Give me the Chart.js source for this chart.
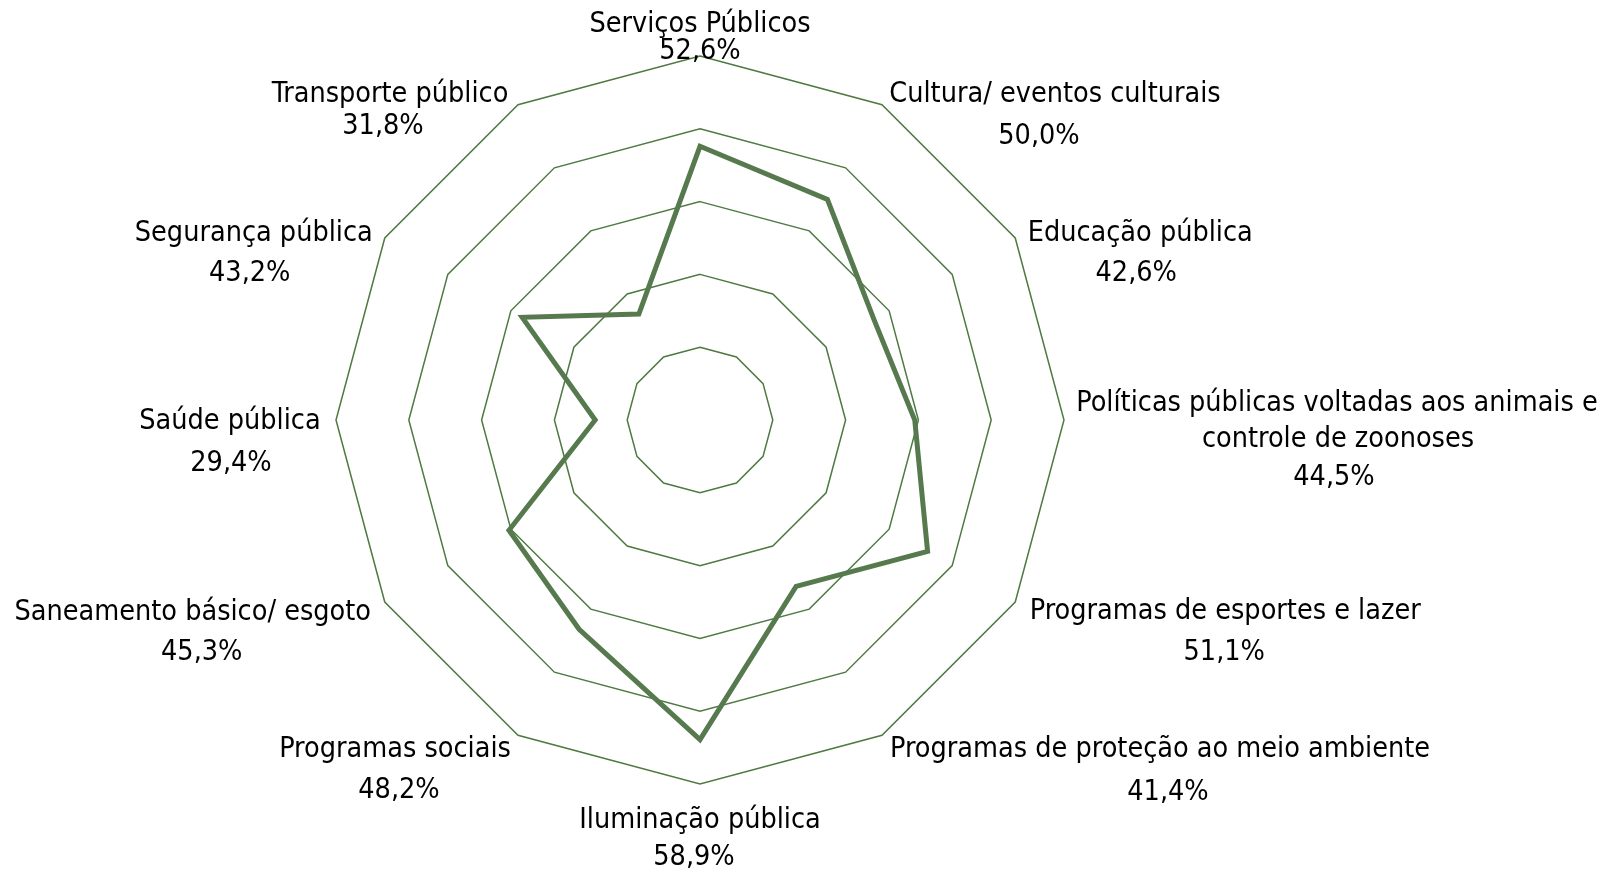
<!DOCTYPE html>
<html>
<head>
<meta charset="utf-8">
<title>Radar</title>
<script src="https://cdn.jsdelivr.net/npm/chart.js"></script>
<style>
    html, body { margin: 0; padding: 0; background: #ffffff; }
    #wrap { width: 1614px; height: 872px; }
</style>
</head>
<body>
<div id="wrap"><canvas id="chartRadar" width="1614" height="872"></canvas></div>
<script>
// categorias (sentido horario, a partir do topo)
var categories = [
    ["Serviços Públicos"],
    ["Cultura/ eventos culturais"],
    ["Educação pública"],
    ["Políticas públicas voltadas aos animais e", "controle de zoonoses"],
    ["Programas de esportes e lazer"],
    ["Programas de proteção ao meio ambiente"],
    ["Iluminação pública"],
    ["Programas sociais"],
    ["Saneamento básico/ esgoto"],
    ["Saúde pública"],
    ["Segurança pública"],
    ["Transporte público"]
];

var values = [52.6, 50.0, 42.6, 44.5, 51.1, 41.4, 58.9, 48.2, 45.3, 29.4, 43.2, 31.8];

// escala
var scaleMin = 15;
var scaleMax = 65;
var scaleStep = 10;

// deslocamento de cada linha do rotulo em relacao ao vertice externo
var labelOffsets = [
    [[0, -31], [0, -4]],
    [[173, -10], [157, 32]],
    [[125, -4], [121, 36]],
    [[273, -16], [274, 20], [270, 58]],
    [[210, 10], [209, 51]],
    [[278, 14], [286, 57]],
    [[0, 37], [-6, 74]],
    [[-123, 14], [-119, 55]],
    [[-192, 11], [-183, 51]],
    [[-106, 2], [-105, 44]],
    [[-131, -4], [-135, 36]],
    [[-128, -10], [-135, 22]]
];

function formatPct(v) {
    return v.toFixed(1).replace('.', ',') + '%';
}

var labelPlugin = {
    id: 'radarLabels',
    afterDraw: function (chart) {
        var scale = chart.scales.r;
        var ctx = chart.ctx;
        ctx.save();
        ctx.font = '28.5px "DejaVu Sans Condensed", "DejaVu Sans", sans-serif';
        ctx.fillStyle = '#000000';
        ctx.textAlign = 'center';
        ctx.textBaseline = 'middle';
        for (var i = 0; i < categories.length; i++) {
            var p = scale.getPointPosition(i, scale.drawingArea);
            var lines = categories[i].concat([formatPct(values[i])]);
            for (var j = 0; j < lines.length; j++) {
                var off = labelOffsets[i][j];
                ctx.fillText(lines[j], p.x + off[0], p.y + off[1]);
            }
        }
        ctx.restore();
    }
};

const ctx = document.getElementById('chartRadar').getContext('2d');

const myChart = new Chart(ctx, {
    type: 'radar',
    data: {
        labels: categories,
        datasets: [{
            label: 'Percentual',
            data: values,
            borderColor: '#567a4e',
            borderWidth: 5,
            borderJoinStyle: 'miter',
            pointRadius: 0,
            pointHoverRadius: 0,
            fill: false,
            tension: 0
        }]
    },
    options: {
        responsive: false,
        animation: false,
        layout: {
            padding: { left: 336, right: 550, top: 56, bottom: 88 }
        },
        plugins: {
            legend: { display: false },
            tooltip: { enabled: false }
        },
        scales: {
            r: {
                min: scaleMin,
                max: scaleMax,
                ticks: { stepSize: scaleStep, display: false },
                grid: { color: '#4e7a42', lineWidth: 1.5 },
                angleLines: { display: false },
                pointLabels: { display: false }
            }
        }
    },
    plugins: [labelPlugin]
});
</script>
</body>
</html>
